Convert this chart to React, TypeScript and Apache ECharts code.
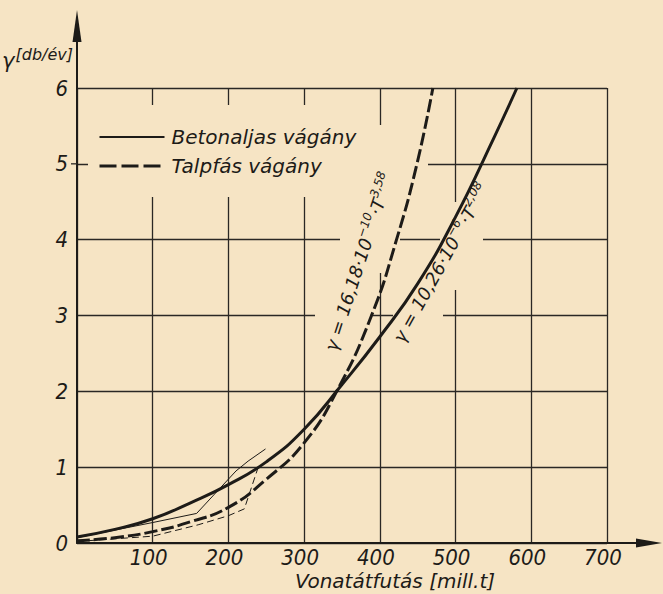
import { useEffect, useRef } from 'react';
import * as echarts from 'echarts';

// ---- data ----
const xTicks = [0, 100, 200, 300, 400, 500, 600, 700];
const yTicks = [0, 1, 2, 3, 4, 5, 6];

// Betonaljas vágány (thick solid) : gamma = 10.26e-6 * T^2.08
const betonT = [0, 50, 100, 150, 200, 250, 300, 350, 400, 450, 500, 550, 581];
const betonGamma = [0.08, 0.18, 0.32, 0.53, 0.77, 1.07, 1.5, 2.09, 2.72, 3.42, 4.3, 5.33, 6.0];

// Talpfás vágány (thick dashed) : gamma = 16.18e-10 * T^3.58
const talpfaT = [0, 50, 100, 150, 200, 250, 300, 343, 389, 422, 449, 470];
const talpfaGamma = [0.03, 0.07, 0.15, 0.28, 0.47, 0.84, 1.32, 2.0, 3.0, 4.0, 5.0, 6.0];

// measured polylines (thin)
const betonMeasT = [0, 100, 158, 210, 226, 249];
const betonMeasGamma = [0.07, 0.27, 0.39, 0.95, 1.08, 1.24];
const talpfaMeasT = [0, 100, 160, 200, 221, 240];
const talpfaMeasGamma = [0.02, 0.09, 0.24, 0.36, 0.45, 1.02];

const seriesNames = ['Betonaljas vágány', 'Talpfás vágány'];
const xTitle = 'Vonatátfutás [mill.t]';
const yTitle = '{g|γ}{b|[db/év]}';
const formula1 = '{n|γ = 16,18·10}{s|−10}{n|·T}{s|3,58}';
const formula2 = '{n|γ = 10,26·10}{s|−6}{n|·T}{s|2,08}';

// ---- layout ----
const W = 663;
const H = 594;
const GL = 77;
const GR = 56;
const GT = 88;
const GB = 51;
const PAPER = '#f6e4c4';
const INK = '#1d1b18';
const GRIDC = '#2a2724';
const DIGITS = "'Liberation Sans Narrow', 'DejaVu Sans Condensed', 'Liberation Sans', sans-serif";
const TEXTF = "'DejaVu Sans', 'Liberation Sans', sans-serif";

const pairs = (xs: number[], ys: number[]) => xs.map((x, i) => [x, ys[i]]);

export default function App() {
  const ref = useRef<HTMLDivElement>(null);
  useEffect(() => {
    if (!ref.current) return;
    const chart = echarts.init(ref.current, null, { renderer: 'svg' });
    const x0 = GL;
    const y0 = H - GB;
    const xEnd = W - GR;
    const yPx = (v: number) => y0 - (v / yTicks[yTicks.length - 1]) * (y0 - GT);

    // paper-coloured patches where the draughtsman left the grid lines out
    const gaps: number[][] = [
      [88, 105, 284, 92],
      [372, 159, 56, 10],
      [375, 125, 11, 148],
      [451, 202, 11, 88],
      [340, 233, 60, 10],
      [440, 233, 43, 10],
      [315, 308, 55, 10],
      [393, 308, 50, 10],
    ];

    const richFormula = {
      n: { fontSize: 18, fontStyle: 'italic', fontFamily: TEXTF, fill: INK, color: INK },
      s: { fontSize: 12, fontStyle: 'italic', fontFamily: TEXTF, fill: INK, color: INK, padding: [0, 0, 12, 0] },
    };

    const graphic: any[] = [
      ...gaps.map((g) => ({
        type: 'rect',
        silent: true,
        z: 1,
        shape: { x: g[0], y: g[1], width: g[2], height: g[3] },
        style: { fill: PAPER },
      })),
      {
        type: 'line', silent: true, z: 3,
        shape: { x1: x0, y1: GT, x2: x0, y2: 38 },
        style: { stroke: INK, lineWidth: 2 },
      },
      {
        type: 'polygon', silent: true, z: 3,
        shape: { points: [[x0, 10], [x0 - 4.5, 42], [x0 + 4.5, 42]] },
        style: { fill: INK },
      },
      {
        type: 'line', silent: true, z: 3,
        shape: { x1: xEnd, y1: y0, x2: 640, y2: y0 },
        style: { stroke: INK, lineWidth: 2 },
      },
      {
        type: 'polygon', silent: true, z: 3,
        shape: { points: [[662, y0], [636, y0 - 4.5], [636, y0 + 4.5]] },
        style: { fill: INK },
      },
      {
        type: 'line', silent: true, z: 3,
        shape: { x1: 71, y1: yPx(5), x2: x0, y2: yPx(5) },
        style: { stroke: GRIDC, lineWidth: 1.3 },
      },
      {
        type: 'text', silent: true, z: 3,
        x: 359, y: 262,
        rotation: (72 * Math.PI) / 180,
        style: {
          text: formula1, rich: richFormula,
          fontSize: 18, fontStyle: 'italic', fontFamily: TEXTF, fill: INK,
          align: 'center', verticalAlign: 'middle', textAlign: 'center', textVerticalAlign: 'middle',
        },
      },
      {
        type: 'text', silent: true, z: 3,
        x: 441, y: 263,
        rotation: (61 * Math.PI) / 180,
        style: {
          text: formula2, rich: richFormula,
          fontSize: 18, fontStyle: 'italic', fontFamily: TEXTF, fill: INK,
          align: 'center', verticalAlign: 'middle', textAlign: 'center', textVerticalAlign: 'middle',
        },
      },
    ];

    const thick = { color: INK, width: 3 };
    chart.setOption({
      animation: false,
      backgroundColor: PAPER,
      grid: { left: GL, right: GR, top: GT, bottom: GB, containLabel: false, outerBoundsMode: 'none' },
      legend: {
        show: true,
        orient: 'vertical',
        left: 98,
        top: 127,
        padding: 0,
        itemWidth: 65,
        itemHeight: 20,
        itemGap: 9,
        selectedMode: false,
        itemStyle: { opacity: 0 },
        data: [
          { name: seriesNames[0], itemStyle: { opacity: 0 } },
          { name: seriesNames[1], itemStyle: { opacity: 0 }, lineStyle: { type: [17, 5], width: 3, color: INK } },
        ],
        textStyle: {
          fontSize: 20, fontStyle: 'italic', fontFamily: TEXTF, color: INK,
          lineHeight: 20, padding: [0, 0, 0, 2],
        },
      },
      xAxis: {
        type: 'value',
        min: xTicks[0],
        max: xTicks[xTicks.length - 1],
        interval: 100,
        axisLine: { show: true, onZero: false, lineStyle: { color: INK, width: 2 } },
        axisTick: { show: false },
        splitLine: { show: true, lineStyle: { color: GRIDC, width: 1.3 } },
        axisLabel: {
          formatter: (v: number) => (v === 0 ? '' : String(v)),
          margin: 5,
          fontSize: 22,
          lineHeight: 18,
          fontStyle: 'italic',
          fontFamily: DIGITS,
          color: INK,
          padding: [0, 8, 0, 0],
        },
        name: xTitle,
        nameLocation: 'middle',
        nameGap: 28,
        nameMoveOverlap: false,
        nameTextStyle: {
          fontSize: 20, fontStyle: 'italic', fontFamily: TEXTF, color: INK,
          lineHeight: 20,
          padding: [0, 0, 0, 106],
        },
      },
      yAxis: {
        type: 'value',
        min: yTicks[0],
        max: yTicks[yTicks.length - 1],
        interval: 1,
        axisLine: { show: true, onZero: false, lineStyle: { color: INK, width: 2 } },
        axisTick: { show: false },
        splitLine: { show: true, lineStyle: { color: GRIDC, width: 1.3 } },
        axisLabel: {
          margin: 9,
          fontSize: 22,
          fontStyle: 'italic',
          fontFamily: DIGITS,
          color: INK,
          padding: [10, 0, 0, 0],
        },
        name: yTitle,
        nameLocation: 'end',
        nameGap: 31,
        nameMoveOverlap: false,
        nameTextStyle: {
          align: 'right',
          verticalAlign: 'middle',
          padding: [0, 4, 0, 0],
          rich: {
            g: { fontSize: 21, fontStyle: 'italic', fontFamily: TEXTF, color: INK, padding: [8, 1, 0, 0] },
            b: { fontSize: 16, fontStyle: 'italic', fontFamily: TEXTF, color: INK, padding: [0, 0, 6, 0] },
          },
        },
      },
      series: [
        {
          name: seriesNames[0], type: 'line', data: pairs(betonT, betonGamma),
          smooth: 0.5, symbol: 'none', showSymbol: false,
          itemStyle: { color: INK },
          lineStyle: thick, z: 4,
        },
        {
          name: seriesNames[1], type: 'line', data: pairs(talpfaT, talpfaGamma),
          smooth: 0.5, symbol: 'none', showSymbol: false,
          itemStyle: { color: INK },
          lineStyle: { ...thick, type: [13, 4] }, z: 4,
        },
        {
          name: 'betonMeas', type: 'line', data: pairs(betonMeasT, betonMeasGamma),
          symbol: 'none', showSymbol: false,
          itemStyle: { color: INK },
          lineStyle: { color: INK, width: 1 }, z: 3,
        },
        {
          name: 'talpfaMeas', type: 'line', data: pairs(talpfaMeasT, talpfaMeasGamma),
          symbol: 'none', showSymbol: false,
          itemStyle: { color: INK },
          lineStyle: { color: INK, width: 1, type: [7, 4] }, z: 3,
        },
      ],
      graphic,
    });
    return () => chart.dispose();
  }, []);
  return <div ref={ref} style={{ position: 'absolute', left: 0, top: 0, width: W, height: H }} />;
}
